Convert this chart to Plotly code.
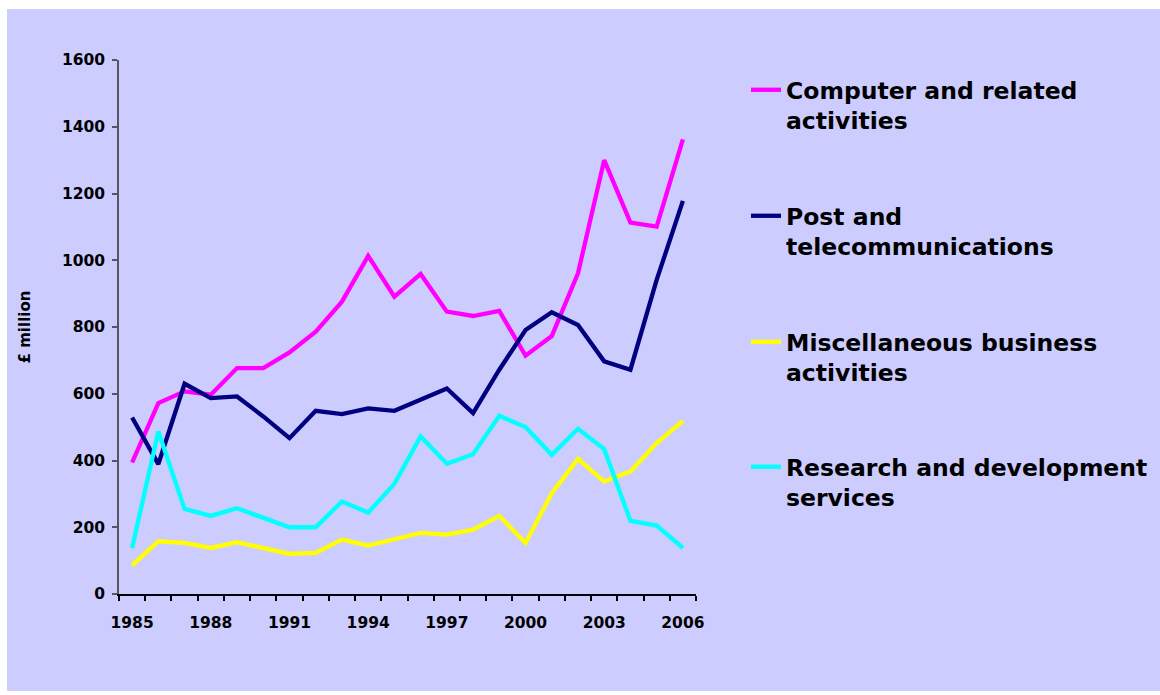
import plotly.graph_objects as go

years = list(range(1985, 2007))
computer = [394, 572, 607, 597, 677, 677, 724, 786, 876, 1013, 891, 959, 846, 833, 848, 714, 773, 961, 1300, 1113, 1101, 1362]
post = [529, 389, 630, 587, 592, 532, 467, 549, 539, 556, 549, 584, 616, 542, 672, 791, 844, 806, 697, 672, 941, 1178]
misc = [86, 158, 153, 138, 155, 136, 120, 123, 163, 145, 165, 183, 178, 193, 234, 153, 302, 405, 337, 367, 452, 519]
rnd = [138, 487, 255, 234, 257, 228, 200, 200, 277, 244, 330, 472, 390, 419, 534, 500, 417, 495, 434, 219, 205, 138]

series_names = [
    "Computer and related<br>activities",
    "Post and<br>telecommunications",
    "Miscellaneous business<br>activities",
    "Research and development<br>services",
]
series_values = [computer, post, misc, rnd]
colors = ["#FF00FF", "#000080", "#FFFF00", "#00FFFF"]
tick_years = years[::3]
y_ticks = list(range(0, 1601, 200))

W, H = 1160, 695
L, R, T, B = 119, 464, 60, 101
pw, ph = W - L - R, H - T - B

def px_x(p):
    return (p - L) / pw

def px_y(p):
    return (H - B - p) / ph

fig = go.Figure()
legend_ids = ["legend", "legend2", "legend3", "legend4"]
for name, vals, col, lid in zip(series_names, series_values, colors, legend_ids):
    fig.add_trace(go.Scatter(x=years, y=vals, name=name, mode="lines",
                             line=dict(color=col, width=4.3), legend=lid))

font_b = dict(family="DejaVu Sans", color="black", weight="bold")
leg_tops = [68, 194, 320, 445]
layout_legends = {}
for lid, top in zip(legend_ids, leg_tops):
    layout_legends[lid] = dict(
        x=px_x(746), xanchor="left", y=px_y(top), yanchor="top",
        bgcolor="rgba(0,0,0,0)", borderwidth=0, valign="top",
        font=dict(size=23.5, **font_b),
    )

fig.update_layout(
    width=W, height=H,
    margin=dict(l=L, r=R, t=T, b=B, autoexpand=False),
    paper_bgcolor="white",
    plot_bgcolor="rgba(0,0,0,0)",
    showlegend=True,
    **layout_legends,
)

fig.add_shape(type="rect", xref="paper", yref="paper",
              x0=px_x(7), x1=px_x(1165), y0=px_y(691), y1=px_y(9),
              fillcolor="#CCCCFF", line=dict(width=0), layer="below")

fig.update_xaxes(
    range=[1984.5, 2006.5], tickmode="array", tickvals=tick_years,
    ticktext=[str(y) for y in tick_years], ticks="",
    showline=True, linecolor="black", linewidth=1.5, showgrid=False, zeroline=False,
    tickfont=dict(size=15.5, **font_b), ticklabelstandoff=14,
    minor=dict(tickmode="array", tickvals=[y - 0.5 for y in years] + [2006.5],
               ticks="outside", ticklen=5, tickcolor="black", tickwidth=1.5, showgrid=False),
)
fig.update_yaxes(
    range=[0, 1600], tickmode="array", tickvals=y_ticks, ticks="outside", ticklen=5,
    tickcolor="#555566", tickwidth=1.5,
    showline=True, linecolor="#555566", linewidth=1.5, showgrid=False, zeroline=False,
    tickfont=dict(size=15.5, **font_b), ticklabelstandoff=4,
    title=dict(text="£ million", font=dict(size=15, **font_b), standoff=28),
)

fig.write_html("out.html", config={"displayModeBar": False},
               post_script="document.body.style.margin='0px';")
